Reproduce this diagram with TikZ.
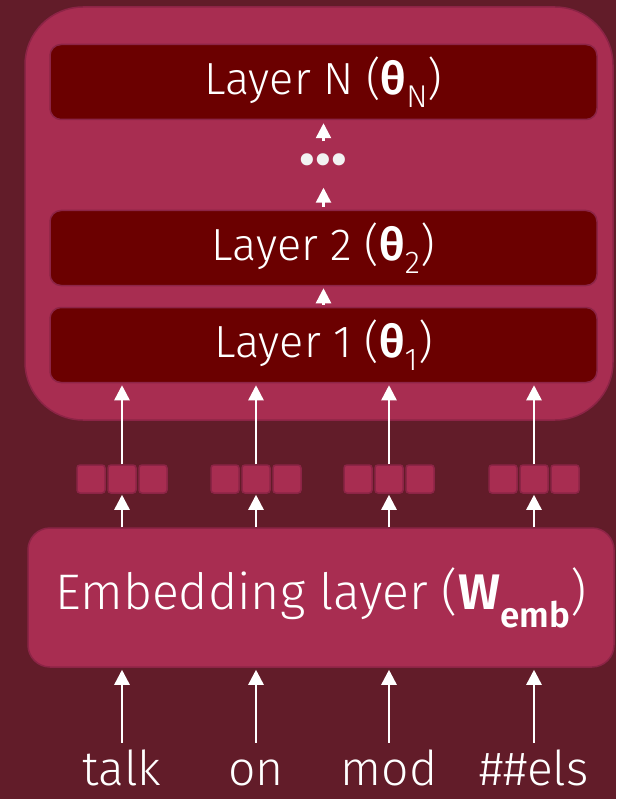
\documentclass[tikz,border=0pt]{standalone}
\usepackage{fontspec}
\setmainfont{Fira Sans}[UprightFont={* Light}, BoldFont={* SemiBold}]
\usepackage{tikz}
\usetikzlibrary{positioning,arrows.meta}

\definecolor{bgmaroon}{HTML}{621C29}
\definecolor{boxpink}{HTML}{A82D51}
\definecolor{edgepink}{HTML}{8C2446}
\definecolor{layerred}{HTML}{6B0000}

\tikzset{
  layerbox/.style={draw=edgepink, line width=1.5pt, fill=layerred, rounded corners=11pt,
    minimum width=547pt, minimum height=75pt, inner sep=0pt, text=white, font=\fontsize{45}{48}\selectfont},
  vecbox/.style={draw=edgepink, line width=1.5pt, fill=boxpink, rounded corners=3pt,
    minimum size=28pt, inner sep=0pt},
  uparrow/.style={draw=white, line width=2.5pt, -{Triangle[width=15pt,length=15pt]}},
}

\begin{document}
\begin{tikzpicture}[x=1pt, y=-1pt]
  \useasboundingbox[fill=bgmaroon] (0,0) rectangle (616,799);
  % transformer block
  \node[draw=edgepink, line width=1.5pt, fill=boxpink, rounded corners=58pt,
    minimum width=588pt, minimum height=413pt] (enc) at (319,213.5) {};
  \node[layerbox] (layN) at (323.5,82) {Layer N (\textbf{θ}\textsubscript{N})};
  \node[text=white!90!gray, inner sep=0pt, minimum height=46pt, font=\fontsize{46}{46}\selectfont]
    (dots) at (323.5,164.5) {\textbf{•••}};
  \node[layerbox] (lay2) at (323.5,248) {Layer 2 (\textbf{θ}\textsubscript{2})};
  \node[layerbox] (lay1) at (323.5,345) {Layer 1 (\textbf{θ}\textsubscript{1})};
  \draw[uparrow, shorten <=2pt, shorten >=2pt] (lay1.north) -- (lay2.south);
  \draw[uparrow, shorten <=3pt] (lay2.north) -- (dots.south);
  \draw[uparrow, shorten >=3pt] (dots.north) -- (layN.south);
  % embedding layer
  \node[draw=edgepink, line width=1.5pt, fill=boxpink, rounded corners=22pt,
    minimum width=586pt, minimum height=139pt, text=white, font=\fontsize{50}{54}\selectfont]
    (emb) at (321,597.5) {Embedding layer (\textbf{W}\textsubscript{\textbf{emb}})};
  % tokens, vectors and arrows
  \foreach \i/\x/\w in {1/122/talk, 2/256/on, 3/389/mod, 4/534/\#\#els} {
    \node[vecbox] (v\i) at (\x,479) {};
    \node[vecbox, left=1.5pt of v\i] (v\i a) {};
    \node[vecbox, right=1.5pt of v\i] (v\i b) {};
    \node[anchor=base, text=white, inner sep=0pt, text height=36pt, text depth=0pt,
      font=\fontsize{48}{52}\selectfont] (w\i) at (\x,785) {\w};
    \draw[uparrow, shorten <=6pt, shorten >=2pt] (w\i.north) -- (emb.south -| w\i.north);
    \draw[uparrow, shorten >=1pt] (emb.north -| v\i.south) -- (v\i.south);
    \draw[uparrow, shorten >=2pt] (v\i.north) -- (lay1.south -| v\i.north);
  }
\end{tikzpicture}
\end{document}
